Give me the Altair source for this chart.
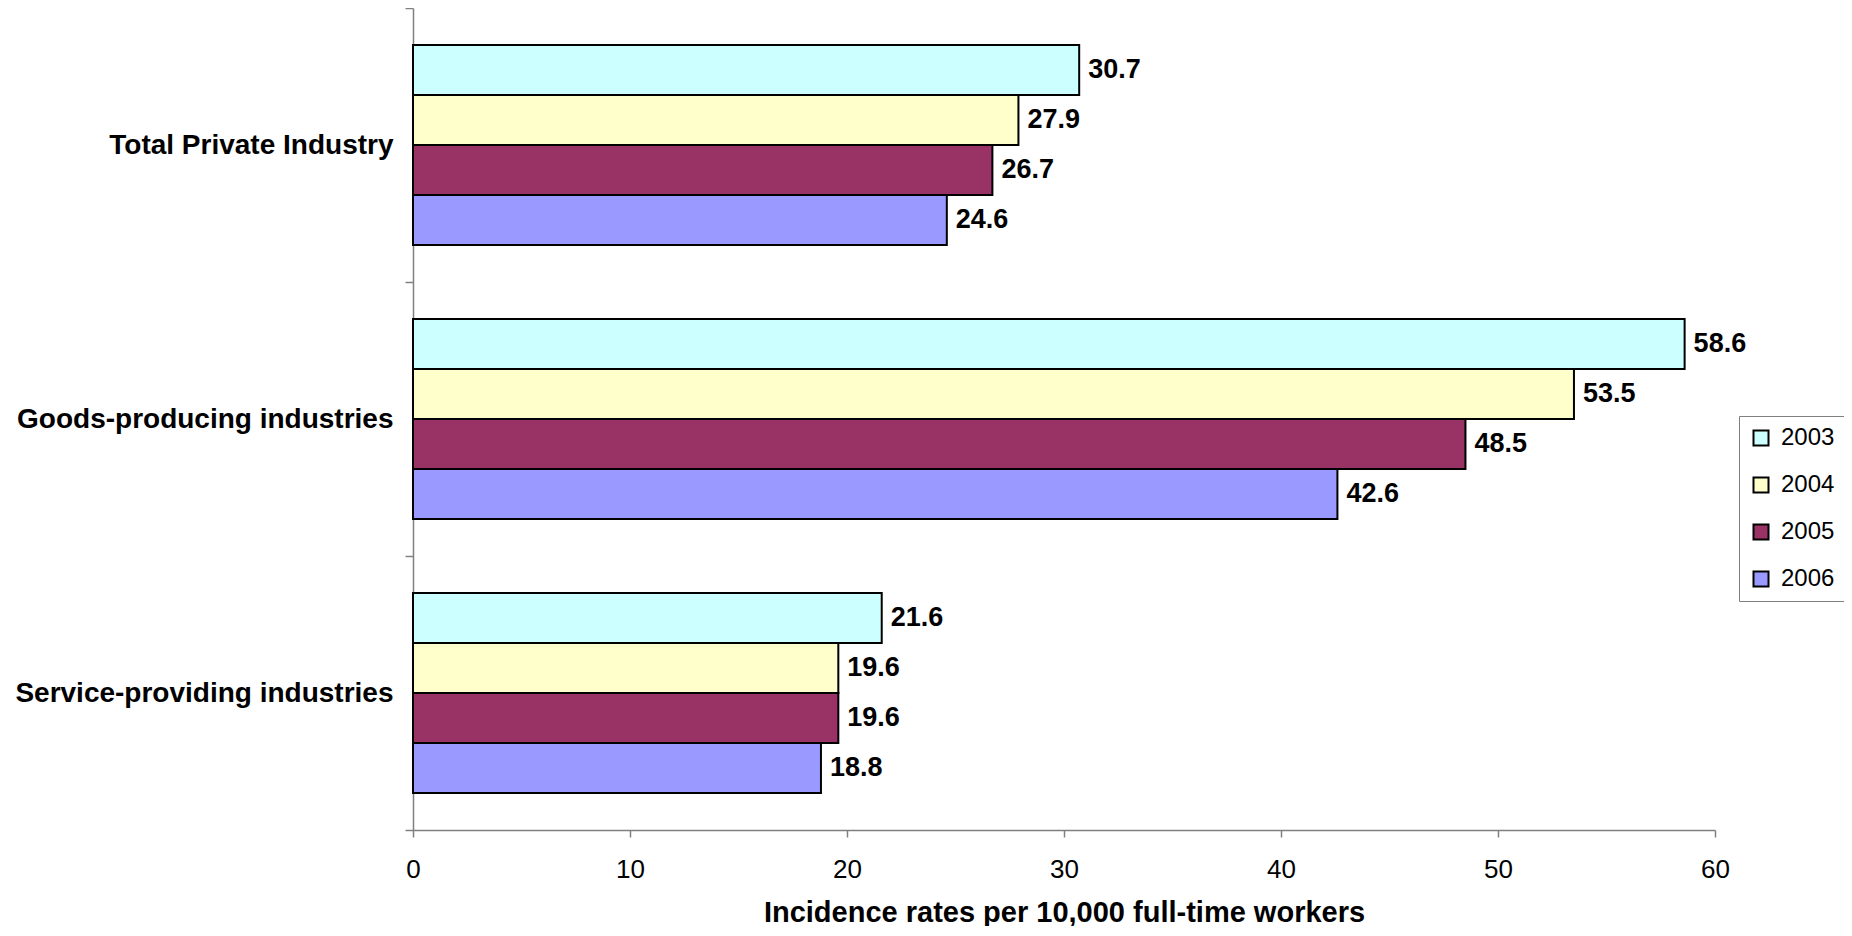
import altair as alt
import pandas as pd

categories = ["Total Private Industry", "Goods-producing industries", "Service-providing industries"]
years = ["2003", "2004", "2005", "2006"]
v2003 = [30.7, 58.6, 21.6]
v2004 = [27.9, 53.5, 19.6]
v2005 = [26.7, 48.5, 19.6]
v2006 = [24.6, 42.6, 18.8]
colors = ["#CCFFFF", "#FFFFCC", "#993366", "#9999FF"]
x_ticks = [0, 10, 20, 30, 40, 50, 60]

rows = []
for yr, vals in zip(years, [v2003, v2004, v2005, v2006]):
    for cat, v in zip(categories, vals):
        rows.append({"category": cat, "year": yr, "value": v})
df = pd.DataFrame(rows)

FONT = "Liberation Sans"

base = alt.Chart(df).encode(
    y=alt.Y(
        "category:N",
        sort=categories,
        scale=alt.Scale(paddingInner=0, paddingOuter=0),
        axis=alt.Axis(
            title=None,
            tickBand="extent",
            labelFontWeight="bold",
            labelFontSize=28,
            labelFont=FONT,
            labelColor="black",
            labelPadding=12,
            labelLimit=0,
            tickSize=8,
            tickColor="#808080",
            domainColor="#808080",
            domainWidth=1.5,
            tickWidth=1.5,
        ),
    ),
    yOffset=alt.YOffset(
        "year:N", sort=years, scale=alt.Scale(paddingOuter=0.74, paddingInner=0)
    ),
    x=alt.X(
        "value:Q",
        scale=alt.Scale(domain=[0, 60], nice=False),
        axis=alt.Axis(
            values=x_ticks,
            grid=False,
            labelFlush=False,
            title="Incidence rates per 10,000 full-time workers",
            titleFont=FONT,
            titleFontSize=29,
            titleFontWeight="bold",
            titleColor="black",
            titleBaseline="alphabetic",
            titleY=91,
            labelFont=FONT,
            labelFontSize=26,
            labelColor="black",
            labelPadding=19,
            tickSize=7,
            tickColor="#808080",
            domainColor="#808080",
            domainWidth=1.5,
            tickWidth=1.5,
        ),
    ),
)

bars = base.mark_bar(stroke="black", strokeWidth=2).encode(
    color=alt.Color(
        "year:N",
        scale=alt.Scale(domain=years, range=colors),
        legend=alt.Legend(
            title=None,
            orient="none",
            legendX=1326,
            legendY=408,
            labelFont=FONT,
            labelFontSize=24,
            labelColor="black",
            symbolType="square",
            symbolSize=225,
            symbolStrokeColor="black",
            symbolStrokeWidth=2,
            strokeColor="#808080",
            fillColor="white",
            padding=10,
            rowPadding=23,
            labelOffset=8,
        ),
    )
)

labels = base.mark_text(
    align="left", baseline="middle", dx=9, fontWeight="bold", fontSize=27, font=FONT, color="black"
).encode(text=alt.Text("value:Q", format=".1f"))

chart = (
    alt.layer(bars, labels)
    .properties(
        width=1302,
        height=822,
        autosize=alt.AutoSizeParams(type="none"),
        padding={"left": 405, "top": 0, "right": 129, "bottom": 96},
    )
    .configure_view(stroke=None)
)

chart.save("out.html", embed_options={"renderer": "svg", "actions": False})
